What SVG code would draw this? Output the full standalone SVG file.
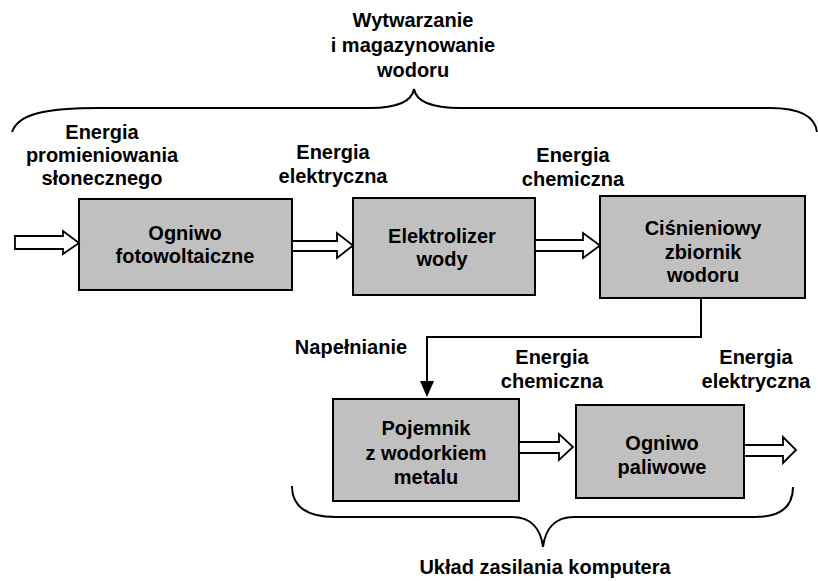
<svg xmlns="http://www.w3.org/2000/svg" width="818" height="581" viewBox="0 0 818 581">
<style>
text{font-family:"Liberation Sans",Arial,sans-serif;font-weight:bold;font-size:20px;fill:#000;text-anchor:middle}
.box{fill:#c0c0c0;stroke:#000;stroke-width:2}
.harrow{fill:#fff;stroke:#000;stroke-width:1.8;stroke-linejoin:miter}
.brace{fill:none;stroke:#000;stroke-width:2}
.line{fill:none;stroke:#000;stroke-width:2}
.head{fill:#000;stroke:none}
</style>
<g id="title">
<text x="413" y="27">Wytwarzanie</text>
<text x="413" y="52">i magazynowanie</text>
<text x="413" y="77">wodoru</text>
</g>
<g id="brace-top">
<path class="brace" d="M12,132 C18,114 45,108 100,108 L370,108 C400,108 412,100 414,89 C416,100 428,108 460,108 L770,108 C800,108 815,116 817,132"/>
</g>
<g id="label-solar">
<text x="102" y="139">Energia</text>
<text x="102" y="162">promieniowania</text>
<text x="102" y="185">słonecznego</text>
</g>
<g id="label-elec1">
<text x="333" y="159">Energia</text>
<text x="333" y="183">elektryczna</text>
</g>
<g id="label-chem1">
<text x="573" y="162">Energia</text>
<text x="573" y="186">chemiczna</text>
</g>
<g id="node-pv">
<rect class="box" x="79" y="199" width="213" height="91"/>
<text x="185" y="240">Ogniwo</text>
<text x="185" y="263">fotowoltaiczne</text>
</g>
<g id="node-electrolyzer">
<rect class="box" x="353" y="198" width="182" height="97"/>
<text x="442" y="243">Elektrolizer</text>
<text x="442" y="266">wody</text>
</g>
<g id="node-tank">
<rect class="box" x="600" y="196" width="205" height="102"/>
<text x="703" y="235">Ciśnieniowy</text>
<text x="703" y="259">zbiornik</text>
<text x="703" y="282">wodoru</text>
</g>
<g id="label-fill">
<text x="351" y="354">Napełnianie</text>
</g>
<g id="label-chem2">
<text x="552" y="364">Energia</text>
<text x="552" y="388">chemiczna</text>
</g>
<g id="label-elec2">
<text x="756" y="364">Energia</text>
<text x="756" y="388">elektryczna</text>
</g>
<g id="node-hydride">
<rect class="box" x="333" y="399" width="186" height="102"/>
<text x="426" y="435">Pojemnik</text>
<text x="426" y="460">z wodorkiem</text>
<text x="426" y="484">metalu</text>
</g>
<g id="node-fuelcell">
<rect class="box" x="576" y="405" width="168" height="93"/>
<text x="662" y="450">Ogniwo</text>
<text x="662" y="474">paliwowe</text>
</g>
<g id="connectors">
<polygon class="harrow" points="15,236 63,236 63,231 79,243 63,254 63,249 15,249"/>
<polygon class="harrow" points="292,241 337,241 337,233 353,245.5 337,258 337,251 292,251"/>
<polygon class="harrow" points="535,240 583,240 583,233 600,245.5 583,258 583,251 535,251"/>
<polygon class="harrow" points="519,442 559,442 559,434 573,447 559,460 559,453 519,453"/>
<polygon class="harrow" points="744,445 783,445 783,437 796,450 783,463 783,456 744,456"/>
<polyline class="line" points="701,298 701,337 427,337 427,383"/>
<polygon class="head" points="420,381 434,381 427,397"/>
</g>
<g id="brace-bottom">
<path class="brace" d="M292,486 C292,506 306,517 336,517 L512,517 C532,517 541,530 543,547 C545,530 554,517 574,517 L755,517 C781,517 793,506 793,487"/>
</g>
<g id="label-bottom">
<text x="545" y="574">Układ zasilania komputera</text>
</g>
</svg>
